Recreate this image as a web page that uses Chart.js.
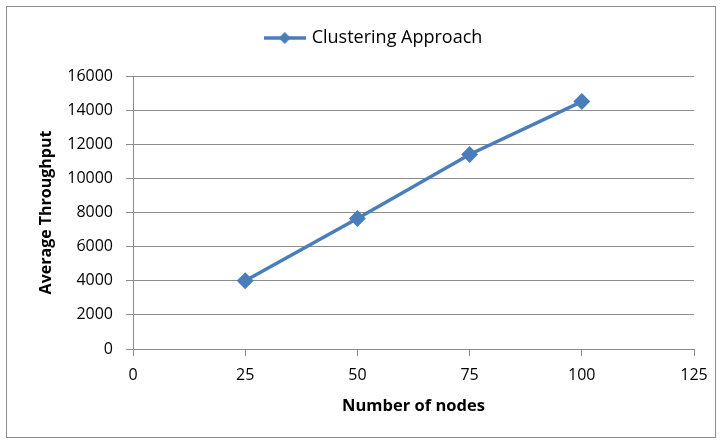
<!DOCTYPE html>
<html>
<head>
<meta charset="utf-8">
<script src="https://cdn.jsdelivr.net/npm/chart.js@4.4.0/dist/chart.umd.min.js"></script>
<style>
  body { margin: 0; background: #fff; }
  #wrap { position: relative; width: 723px; height: 441px; }
  #frame { position: absolute; left: 6px; top: 6px; width: 708px; height: 430px; border: 1px solid #8c8c8c; pointer-events: none; }
</style>
</head>
<body>
<div id="wrap">
  <canvas id="throughputChart"></canvas>
  <div id="frame"></div>
</div>
<script>
const nodes = [25, 50, 75, 100];
const throughput = [4000, 7650, 11400, 14500];
const seriesName = 'Clustering Approach';
const xTicks = [0, 25, 50, 75, 100, 125];
const yTicks = [0, 2000, 4000, 6000, 8000, 10000, 12000, 14000, 16000];

const lineColor = '#4a7ebb';
const gridColor = '#8c8c8c';
const fontFamily = '"Open Sans", "DejaVu Sans", sans-serif';

// legend icon: line with a diamond in the middle, like excel
const legendIcon = document.createElement('canvas');
legendIcon.width = 42;
legendIcon.height = 14;
const ic = legendIcon.getContext('2d');
ic.strokeStyle = lineColor;
ic.lineWidth = 3.5;
ic.beginPath();
ic.moveTo(0, 7);
ic.lineTo(42, 7);
ic.stroke();
ic.fillStyle = lineColor;
ic.beginPath();
ic.moveTo(21, 1);
ic.lineTo(27, 7);
ic.lineTo(21, 13);
ic.lineTo(15, 7);
ic.closePath();
ic.fill();

// more room under the legend, and nudge it right a bit
const legendSpacing = {
  id: 'legendSpacing',
  beforeInit(chart) {
    const fit = chart.legend.fit;
    chart.legend.fit = function () {
      fit.bind(chart.legend)();
      this.height += 19;
    };
  },
  afterLayout(chart) {
    chart.legend.left += 20;
  }
};

const ctx = document.getElementById('throughputChart');

new Chart(ctx, {
  type: 'line',
  data: {
    datasets: [
      {
        label: seriesName,
        data: nodes.map((n, i) => ({ x: n, y: throughput[i] })),
        borderColor: lineColor,
        backgroundColor: lineColor,
        borderWidth: 3.5,
        pointStyle: 'rectRot',
        pointRadius: 6,
        pointHoverRadius: 6,
        tension: 0
      }
    ]
  },
  plugins: [legendSpacing],
  options: {
    responsive: true,
    maintainAspectRatio: false,
    animation: false,
    layout: {
      padding: { left: 35, right: 29, top: 17, bottom: 25 }
    },
    plugins: {
      legend: {
        position: 'top',
        labels: {
          color: '#000',
          font: { family: fontFamily, size: 18 },
          usePointStyle: true,
          pointStyleWidth: 36,
          padding: 12,
          generateLabels: (chart) => [{
            text: seriesName,
            pointStyle: legendIcon,
            fillStyle: lineColor,
            strokeStyle: lineColor,
            lineWidth: 0,
            datasetIndex: 0
          }]
        }
      },
      tooltip: { enabled: false }
    },
    scales: {
      x: {
        type: 'linear',
        min: xTicks[0],
        max: xTicks[xTicks.length - 1],
        afterBuildTicks: (scale) => { scale.ticks = xTicks.map(v => ({ value: v })); },
        border: { display: true, color: gridColor, width: 1 },
        grid: { drawOnChartArea: false, drawTicks: true, tickLength: 7, color: gridColor },
        ticks: { color: '#000', font: { family: fontFamily, size: 16 }, padding: 10, maxRotation: 0, callback: (v) => String(v) },
        title: {
          display: true,
          text: 'Number of nodes',
          color: '#000',
          font: { family: fontFamily, size: 16.5, weight: 'bold' },
          padding: { top: 1, bottom: 0 }
        }
      },
      y: {
        min: yTicks[0],
        max: yTicks[yTicks.length - 1],
        afterBuildTicks: (scale) => { scale.ticks = yTicks.map(v => ({ value: v })); },
        afterFit: (scale) => { scale.width = 98; },
        border: { display: true, color: gridColor, width: 1 },
        grid: { drawOnChartArea: true, drawTicks: true, tickLength: 7, color: gridColor },
        ticks: { color: '#000', font: { family: fontFamily, size: 16 }, padding: 13, callback: (v) => String(v) },
        title: {
          display: true,
          text: 'Average Throughput',
          color: '#000',
          font: { family: fontFamily, size: 16, weight: 'bold' },
          padding: { top: 2, bottom: 0 }
        }
      }
    }
  }
});
</script>
</body>
</html>
